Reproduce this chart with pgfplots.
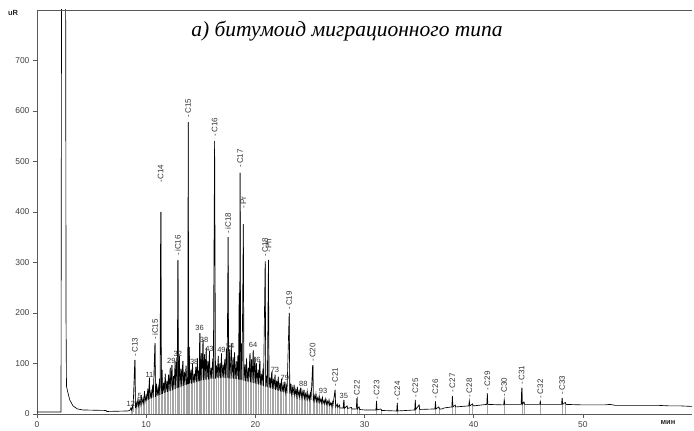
\documentclass[border=0pt]{standalone}
\usepackage{fontspec}
\usepackage{pgfplots}
\pgfplotsset{compat=1.18}
\usepackage{pgfplotstable}
\setmainfont{Liberation Sans}
\newfontfamily\serifit{Liberation Serif}
\pgfplotstableread{
t v d
0 4 nan
2.2 4 nan
2.25 900 nan
2.62 900 nan
2.66 190 nan
2.7 55 nan
2.8 45 nan
3.0 28 nan
3.3 16 nan
3.7 10 nan
4.2 8 nan
6.3 7 nan
6.4 5 nan
8.3 6 nan
8.5 7 nan
8.6 12 12
8.65 8 nan
8.75 16 16
8.8 10 nan
8.96 107 107
9.02 12 nan
9.1 22 22
9.15 14 nan
9.25 30 30
9.3 16 nan
9.4 26 26
9.45 18 nan
9.55 38 38
9.6 20 nan
9.7 30 30
9.75 22 nan
9.85 45 45
9.9 24 nan
10.0 36 36
10.05 26 nan
10.15 50 50
10.2 28 nan
10.3 72 72
10.35 30 nan
10.45 44 44
10.5 31 nan
10.6 58 58
10.65 33 nan
10.8 141 141
10.86 34 nan
10.95 60 60
11.0 36 nan
11.1 52 52
11.15 37 nan
11.22 70 70
11.27 38 nan
11.33 400 400
11.39 40 nan
11.45 88 88
11.5 40 nan
11.6 62 62
11.65 42 nan
11.75 80 80
11.8 43 nan
11.9 66 66
11.95 44 nan
12.05 78 78
12.1 45 nan
12.2 92 92
12.25 46 nan
12.35 97 97
12.4 47 nan
12.5 75 75
12.55 49 nan
12.65 104 104
12.7 50 nan
12.8 112 112
12.85 51 nan
12.9 305 305
12.96 52 nan
13.05 115 115
13.1 53 nan
13.2 90 90
13.25 54 nan
13.35 105 105
13.4 55 nan
13.5 84 84
13.55 57 nan
13.65 96 96
13.7 58 nan
13.78 70 70
13.81 59 nan
13.85 578 578
13.9 59 nan
13.95 133 133
14.0 60 nan
14.1 88 88
14.15 60 nan
14.25 100 100
14.3 61 nan
14.4 80 80
14.45 62 nan
14.55 94 94
14.6 63 nan
14.7 110 110
14.75 64 nan
14.82 86 86
14.86 65 nan
14.9 160 160
14.95 66 nan
15.05 120 120
15.1 66 nan
15.2 147 147
15.25 67 nan
15.35 118 118
15.4 67 nan
15.5 131 131
15.55 68 nan
15.65 105 105
15.7 68 nan
15.8 125 125
15.85 69 nan
15.95 92 92
16.0 70 nan
16.1 110 110
16.15 70 nan
16.27 541 541
16.35 70 nan
16.45 96 96
16.5 71 nan
16.6 115 115
16.65 71 nan
16.75 100 100
16.8 71 nan
16.9 120 120
16.95 72 nan
17.05 98 98
17.1 72 nan
17.2 108 108
17.25 71 nan
17.35 130 130
17.42 71 nan
17.5 350 350
17.56 71 nan
17.62 128 128
17.68 70 nan
17.8 140 140
17.85 70 nan
17.95 112 112
18.0 70 nan
18.1 122 122
18.15 69 nan
18.25 104 104
18.3 69 nan
18.4 116 116
18.45 68 nan
18.52 240 240
18.56 68 nan
18.6 478 478
18.66 68 nan
18.72 140 140
18.78 67 nan
18.9 376 376
18.96 66 nan
19.05 98 98
19.1 65 nan
19.2 110 110
19.25 64 nan
19.35 92 92
19.4 64 nan
19.5 120 120
19.55 63 nan
19.65 108 108
19.7 62 nan
19.8 127 127
19.85 61 nan
19.95 112 112
20.0 60 nan
20.1 100 100
20.15 59 nan
20.25 88 88
20.3 58 nan
20.4 104 104
20.45 57 nan
20.55 80 80
20.6 56 nan
20.7 90 90
20.75 55 nan
20.9 302 302
20.96 54 nan
21.05 76 76
21.1 53 nan
21.2 305 305
21.26 52 nan
21.35 72 72
21.4 51 nan
21.5 84 84
21.55 50 nan
21.65 70 70
21.7 49 nan
21.8 78 78
21.85 48 nan
21.95 66 66
22.0 47 nan
22.1 74 74
22.15 46 nan
22.25 62 62
22.3 45 nan
22.4 70 70
22.45 44 nan
22.55 58 58
22.6 43 nan
22.7 64 64
22.75 42 nan
22.85 55 55
22.9 41 nan
23.1 200 200
23.16 40 nan
23.25 60 60
23.3 39 nan
23.4 52 52
23.45 38 nan
23.55 58 58
23.6 37 nan
23.7 48 48
23.75 36 nan
23.85 54 54
23.9 35 nan
24.0 46 46
24.05 34 nan
24.15 52 52
24.2 33 nan
24.3 44 44
24.35 32 nan
24.45 48 48
24.5 31 nan
24.6 40 40
24.65 30 nan
24.75 45 45
24.8 29 nan
24.9 38 38
24.95 28 nan
25.05 42 42
25.1 28 nan
25.25 97 97
25.31 27 nan
25.4 36 36
25.45 26 nan
25.55 40 40
25.6 25 nan
25.7 32 32
25.75 24 nan
25.85 36 36
25.9 23 nan
26.0 30 30
26.05 22 nan
26.15 33 33
26.2 21 nan
26.3 27 27
26.35 20 nan
26.45 30 30
26.5 19 nan
26.6 25 25
26.65 18 nan
26.75 28 28
26.8 17 nan
26.9 22 22
26.95 16 nan
27.05 24 24
27.1 15 nan
27.3 48 48
27.36 14 nan
27.5 20 20
27.55 13 nan
27.7 18 18
27.75 12 nan
28.05 12 nan
28.1 28 28
28.15 11 nan
28.4 16 16
28.45 11 nan
28.8 13 13
28.85 10 nan
29.25 10 nan
29.3 32 32
29.35 10 nan
29.5 14 14
29.55 9 nan
30.0 8 nan
31.05 8 nan
31.1 26 26
31.15 8 nan
31.5 10 10
31.55 7 nan
32.95 6 nan
33.0 22 22
33.05 6 nan
34.6 8 nan
34.65 28 28
34.7 9 nan
35.0 18 18
35.05 9 nan
36.45 10 nan
36.5 25 25
36.55 10 nan
36.8 14 14
36.85 10 nan
37.1 10 nan
37.3 12 nan
38.0 14 nan
38.05 36 36
38.1 14 nan
38.3 18 18
38.35 14 nan
39.55 16 nan
39.6 26 26
39.65 16 nan
39.9 20 20
39.95 16 nan
41.2 19 nan
41.25 41 41
41.3 19 nan
42.75 18 nan
42.8 28 28
42.85 19 nan
44.35 19 nan
44.4 52 52
44.45 19 nan
44.6 24 24
44.65 19 nan
46.05 19 nan
46.1 25 25
46.15 19 nan
48.05 19 nan
48.1 32 32
48.15 19 nan
48.4 23 23
48.45 19 nan
50 18 nan
52 18 nan
52.5 19 nan
53 17 nan
55 17 nan
57 17 nan
58 16 nan
59 16 nan
60 15 nan
}\trace

\begin{document}
\begin{tikzpicture}
\begin{axis}[name=ax, scale only axis, width=655bp, height=404bp,
  xmin=0, xmax=60, ymin=0, ymax=800,
  axis x line*=bottom, axis y line*=left,
  axis line style={black!65, line width=0.6pt},
  xtick={0,10,20,30,40,50}, ytick={0,100,...,700},
  tick align=outside, major tick length=4bp,
  tick style={black!65, line width=0.6pt},
  ticklabel style={font=\fontsize{8.5bp}{9bp}\selectfont, text=black!75},
  /pgf/number format/assume math mode=true,
  every node/.append style={font=\fontsize{8bp}{9bp}\selectfont},
]
\addplot[ycomb, black!35, line width=0.25pt] table[x=t,y=d]{\trace};
\addplot[black, line width=0.65pt] table[x=t,y=v]{\trace};
\tikzset{lab/.style={rotate=90, anchor=west, inner sep=0.5pt, text=black!80, font=\fontsize{8bp}{9bp}\selectfont}}
\node[lab] at (axis cs:8.96,112) {-\,C13};
\node[lab] at (axis cs:10.8,146) {-\,iC15};
\node[lab] at (axis cs:11.33,458) {-C14};
\node[lab] at (axis cs:12.9,312) {-\,iC16};
\node[lab] at (axis cs:13.85,586) {-\,C15};
\node[lab] at (axis cs:16.27,548) {-\,C16};
\node[lab] at (axis cs:17.5,356) {-\,iC18};
\node[lab] at (axis cs:18.6,486) {-\,C17};
\node[lab] at (axis cs:18.9,405) {-\,Pr};
\node[lab] at (axis cs:20.9,310) {-\,C18};
\node[lab] at (axis cs:21.2,318) {-\,Ph};
\node[lab] at (axis cs:23.1,205) {-\,C19};
\node[lab] at (axis cs:25.25,102) {-\,C20};
\node[lab] at (axis cs:27.3,53) {-\,C21};
\node[lab] at (axis cs:29.3,28) {-\,C22};
\node[lab] at (axis cs:31.1,28) {-\,C23};
\node[lab] at (axis cs:33.0,26) {-\,C24};
\node[lab] at (axis cs:34.65,32) {-\,C25};
\node[lab] at (axis cs:36.5,30) {-\,C26};
\node[lab] at (axis cs:38.05,42) {-\,C27};
\node[lab] at (axis cs:39.6,32) {-\,C28};
\node[lab] at (axis cs:41.25,46) {-\,C29};
\node[lab] at (axis cs:42.8,33) {-\,C30};
\node[lab] at (axis cs:44.4,57) {-\,C31};
\node[lab] at (axis cs:46.1,30) {-\,C32};
\node[lab] at (axis cs:48.1,37) {-\,C33};
\tikzset{num/.style={anchor=south, inner sep=0.5pt, text=black!80, font=\fontsize{7.5bp}{8bp}\selectfont}}
\node[num] at (axis cs:14.9,163) {36};
\node[num] at (axis cs:15.3,140) {38};
\node[num] at (axis cs:15.8,123) {43};
\node[num] at (axis cs:17.7,128) {54};
\node[num] at (axis cs:19.8,130) {64};
\node[num] at (axis cs:12.3,98) {29};
\node[num] at (axis cs:12.9,112) {32};
\node[num] at (axis cs:10.3,70) {11};
\node[num] at (axis cs:21.8,80) {73};
\node[num] at (axis cs:28.1,29) {35};
\node[num] at (axis cs:8.6,14) {12};
\node[num] at (axis cs:9.4,30) {5};
\node[num] at (axis cs:14.4,96) {38};
\node[num] at (axis cs:16.9,121) {49};
\node[num] at (axis cs:20.1,100) {66};
\node[num] at (axis cs:22.7,65) {79};
\node[num] at (axis cs:24.4,52) {88};
\node[num] at (axis cs:26.2,40) {93};
\node[font=\serifit\itshape\fontsize{21.5bp}{23bp}\selectfont, text=black, anchor=center] at (axis cs:28.4,758) {а) битумоид миграционного типа};
\end{axis}
\draw[black!65, line width=0.6pt] (ax.north west) -- (ax.north east);
\node[font=\bfseries\fontsize{7.5bp}{8bp}\selectfont, text=black!85] at ([xshift=-24bp,yshift=-3bp]ax.north west) {uR};
\node[font=\bfseries\fontsize{7.5bp}{8bp}\selectfont, text=black!85] at ([xshift=-24bp,yshift=-9bp]ax.south east) {мин};
\path ([xshift=-37bp,yshift=-15bp]ax.south west) rectangle ([xshift=2bp,yshift=10bp]ax.north east);
\end{tikzpicture}
\end{document}
